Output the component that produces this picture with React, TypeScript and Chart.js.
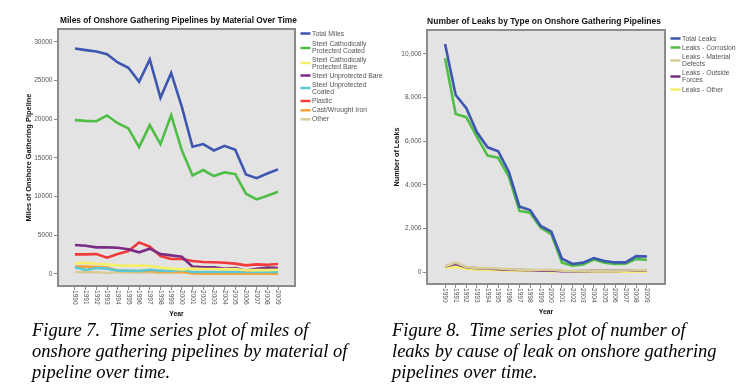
import React, { useEffect, useRef } from "react";
import { Chart, registerables } from "chart.js";
Chart.register(...registerables);

const years = [1990, 1991, 1992, 1993, 1994, 1995, 1996, 1997, 1998, 1999, 2000, 2001, 2002, 2003, 2004, 2005, 2006, 2007, 2008, 2009];

// Figure 7 – miles by material
const totalMiles = [29150, 28950, 28780, 28420, 27350, 26660, 24850, 27740, 22780, 26000, 21600, 16450, 16800, 15980, 16580, 16060, 12880, 12400, 13000, 13530];
const scpCoated = [19900, 19800, 19750, 20500, 19500, 18830, 16400, 19250, 16800, 20540, 16000, 12750, 13440, 12660, 13140, 12920, 10380, 9650, 10120, 10630];
const scpBare = [1380, 1460, 1330, 1250, 1120, 1080, 1080, 1030, 820, 690, 600, 700, 650, 650, 600, 650, 450, 500, 500, 550];
const suBare = [3750, 3650, 3440, 3440, 3400, 3190, 2800, 3270, 2580, 2410, 2240, 950, 860, 860, 680, 760, 430, 680, 820, 780];
const suCoated = [860, 520, 780, 690, 430, 430, 390, 550, 430, 390, 520, 260, 250, 250, 250, 250, 250, 250, 250, 250];
const plastic = [2540, 2540, 2580, 2110, 2580, 2970, 4090, 3530, 2330, 1940, 1940, 1680, 1550, 1510, 1460, 1340, 1120, 1250, 1200, 1290];
const castIron = [950, 950, 900, 820, 430, 390, 390, 390, 300, 300, 300, 80, 50, 50, 50, 50, 50, 50, 50, 50];
const otherMiles = [260, 220, 220, 130, 220, 200, 200, 200, 150, 150, 200, 180, 200, 200, 200, 200, 200, 200, 200, 200];
const milesTicks = [0, 5000, 10000, 15000, 20000, 25000, 30000];

// Figure 8 – leaks by type
const totalLeaks = [10460, 8120, 7510, 6410, 5720, 5540, 4600, 3000, 2840, 2110, 1850, 610, 370, 430, 640, 500, 440, 440, 730, 710];
const corrosionLeaks = [9800, 7250, 7100, 6200, 5340, 5240, 4370, 2800, 2720, 2030, 1740, 430, 290, 350, 570, 430, 370, 380, 600, 550];
const materialLeaks = [250, 430, 230, 190, 180, 160, 130, 110, 100, 90, 100, 60, 40, 50, 60, 60, 60, 60, 80, 90];
const outsideLeaks = [250, 370, 215, 170, 160, 130, 110, 95, 80, 60, 70, 40, 30, 40, 50, 50, 50, 60, 70, 80];
const otherLeaks = [200, 215, 150, 115, 110, 80, 70, 60, 45, 90, 10, 80, 15, 10, 10, 10, 10, 15, 20, 15];
const leaksTicks = [0, 2000, 4000, 6000, 8000, 10000];

const FONT = '"Liberation Sans", Arial, sans-serif';

type Series = { label: string[]; data: number[]; color: string };
type Spec = {
  W: number; H: number;
  area: { left: number; top: number; right: number; bottom: number };
  xMin: number; xMax: number; yMin: number; yMax: number;
  yTicks: number[]; fmt: (v: number) => string;
  title: string; titleX: number; titleY: number; titleW: number;
  yTitle: string; yTitleX: number; yTitleW: number;
  xTitleX: number; xTitleY: number;
  legendX: number; legendY: number[]; legendText: number[][];
  series: Series[];
};

function fitFont(ctx: CanvasRenderingContext2D, text: string, weight: string, target: number) {
  ctx.font = `${weight} 10px ${FONT}`;
  const w = ctx.measureText(text).width;
  const size = (10 * target) / w;
  return `${weight} ${size.toFixed(2)}px ${FONT}`;
}

function makeChart(canvas: HTMLCanvasElement, s: Spec) {
  const decor = {
    id: "decor",
    beforeDraw(chart: any) {
      const { ctx, chartArea: a } = chart;
      ctx.save();
      ctx.fillStyle = "#e3e3e3";
      ctx.fillRect(a.left, a.top, a.right - a.left, a.bottom - a.top);
      ctx.restore();
    },
    afterDraw(chart: any) {
      const { ctx, chartArea: a } = chart;
      ctx.save();
      ctx.strokeStyle = "#8c8c8c";
      ctx.lineWidth = 2;
      ctx.strokeRect(a.left, a.top, a.right - a.left, a.bottom - a.top);
      // title
      ctx.fillStyle = "#111";
      ctx.textAlign = "center";
      ctx.textBaseline = "middle";
      ctx.font = fitFont(ctx, s.title, "bold", s.titleW);
      ctx.fillText(s.title, s.titleX, s.titleY);
      // y title
      ctx.save();
      ctx.translate(s.yTitleX, (a.top + a.bottom) / 2);
      ctx.rotate(-Math.PI / 2);
      ctx.font = fitFont(ctx, s.yTitle, "bold", s.yTitleW);
      ctx.fillText(s.yTitle, 0, 0);
      ctx.restore();
      // x title
      ctx.font = `bold 6.8px ${FONT}`;
      ctx.fillText("Year", s.xTitleX, s.xTitleY);
      // x tick labels rotated clockwise
      const xs = chart.scales.x;
      ctx.fillStyle = "#555";
      ctx.font = `6.6px ${FONT}`;
      ctx.textAlign = "left";
      for (const yr of years) {
        const px = xs.getPixelForValue(yr);
        ctx.save();
        ctx.translate(px, a.bottom + 4);
        ctx.rotate(Math.PI / 2);
        ctx.fillText(String(yr), 0, 0);
        ctx.restore();
      }
      // legend
      ctx.font = `6.8px ${FONT}`;
      ctx.textAlign = "left";
      s.series.forEach((ser, i) => {
        ctx.strokeStyle = ser.color;
        ctx.lineWidth = 2.5;
        ctx.beginPath();
        ctx.moveTo(s.legendX, s.legendY[i]);
        ctx.lineTo(s.legendX + 10, s.legendY[i]);
        ctx.stroke();
        ctx.fillStyle = "#555";
        ser.label.forEach((ln, j) => ctx.fillText(ln, s.legendX + 11.5, s.legendText[i][j]));
      });
      ctx.restore();
    },
  };

  return new Chart(canvas, {
    type: "line",
    data: {
      datasets: s.series.map((ser) => ({
        label: ser.label.join(" "),
        data: years.map((y, i) => ({ x: y, y: ser.data[i] })),
        borderColor: ser.color,
        backgroundColor: ser.color,
        borderWidth: 2.6,
        pointRadius: 0,
        tension: 0,
      })),
    },
    options: {
      animation: false,
      responsive: false,
      events: [],
      layout: { padding: { left: 0, top: s.area.top, right: s.W - s.area.right, bottom: 0 } },
      plugins: { legend: { display: false }, title: { display: false }, tooltip: { enabled: false } },
      scales: {
        x: {
          type: "linear",
          min: s.xMin,
          max: s.xMax,
          afterBuildTicks: (sc: any) => { sc.ticks = years.map((v) => ({ value: v })); },
          afterFit: (sc: any) => { sc.height = s.H - s.area.bottom; },
          ticks: { display: false },
          grid: { drawOnChartArea: false, drawTicks: true, tickLength: 4, color: "#888" },
          border: { display: false },
        },
        y: {
          type: "linear",
          min: s.yMin,
          max: s.yMax,
          afterBuildTicks: (sc: any) => { sc.ticks = s.yTicks.map((v) => ({ value: v })); },
          afterFit: (sc: any) => { sc.width = s.area.left; },
          ticks: { color: "#555", font: { size: 6.6, family: FONT }, padding: 1.5, callback: (v: any) => s.fmt(Number(v)) },
          grid: { drawOnChartArea: false, drawTicks: true, tickLength: 4, color: "#888" },
          border: { display: false },
        },
      },
    },
    plugins: [decor],
  } as any);
}

const milesSpec: Spec = {
  W: 400, H: 330,
  area: { left: 58, top: 29, right: 295, bottom: 286 },
  xMin: 1988.41, xMax: 2010.59, yMin: -1552, yMax: 31681,
  yTicks: milesTicks, fmt: (v) => String(v),
  title: "Miles of Onshore Gathering Pipelines by Material Over Time", titleX: 178.5, titleY: 21, titleW: 237,
  yTitle: "Miles of Onshore Gathering Pipeline", yTitleX: 29, yTitleW: 128,
  xTitleX: 176.5, xTitleY: 314,
  legendX: 300.5,
  legendY: [33.5, 48, 63, 75.5, 88, 101, 110.3, 119.3],
  legendText: [[33.7], [43.7, 50.7], [60, 67], [75.7], [85, 92], [101], [110.3], [119.3]],
  series: [
    { label: ["Total Miles"], data: totalMiles, color: "#3d56b0" },
    { label: ["Steel Cathodically", "Protected Coated"], data: scpCoated, color: "#4fbe46" },
    { label: ["Steel Cathodically", "Protected Bare"], data: scpBare, color: "#f5ef6a" },
    { label: ["Steel Unprotected Bare"], data: suBare, color: "#7a2b86" },
    { label: ["Steel Unprotected", "Coated"], data: suCoated, color: "#5cc6d3" },
    { label: ["Plastic"], data: plastic, color: "#f23a3a" },
    { label: ["Cast/Wrought Iron"], data: castIron, color: "#f7a136" },
    { label: ["Other"], data: otherMiles, color: "#d6cd9a" },
  ],
};

const leaksSpec: Spec = {
  W: 374, H: 330,
  area: { left: 53, top: 30, right: 291, bottom: 284 },
  xMin: 1988.3, xMax: 2010.7, yMin: -550, yMax: 11100,
  yTicks: leaksTicks, fmt: (v) => v.toLocaleString("en-US"),
  title: "Number of Leaks by Type on Onshore Gathering Pipelines", titleX: 170, titleY: 22, titleW: 234,
  yTitle: "Number of Leaks", yTitleX: 22.5, yTitleW: 59,
  xTitleX: 172, xTitleY: 312,
  legendX: 296.5,
  legendY: [38.5, 47.5, 60.5, 76.5, 89.5],
  legendText: [[39.3], [48.3], [57.3, 64.5], [73, 80.5], [89.7]],
  series: [
    { label: ["Total Leaks"], data: totalLeaks, color: "#3d56b0" },
    { label: ["Leaks - Corrosion"], data: corrosionLeaks, color: "#4fbe46" },
    { label: ["Leaks - Material", "Defects"], data: materialLeaks, color: "#d6cd9a" },
    { label: ["Leaks - Outside", "Forces"], data: outsideLeaks, color: "#7a2b86" },
    { label: ["Leaks - Other"], data: otherLeaks, color: "#f5ef6a" },
  ],
};

function ChartBox({ spec, left }: { spec: Spec; left: number }) {
  const ref = useRef<HTMLCanvasElement | null>(null);
  useEffect(() => {
    if (!ref.current) return;
    const c = makeChart(ref.current, spec);
    return () => c.destroy();
  }, []);
  return (
    <canvas
      ref={ref}
      width={spec.W}
      height={spec.H}
      style={{ position: "absolute", left, top: 0, width: spec.W, height: spec.H }}
    />
  );
}

const capStyle: React.CSSProperties = {
  position: "absolute",
  fontFamily: '"Liberation Serif", "Times New Roman", serif',
  fontStyle: "italic",
  fontSize: 18.5,
  lineHeight: "21.4px",
  color: "#000",
  whiteSpace: "pre",
};

export default function App() {
  return (
    <div style={{ position: "absolute", left: 0, top: 0, width: 748, height: 391, background: "#fff", overflow: "hidden" }}>
      <ChartBox spec={milesSpec} left={0} />
      <ChartBox spec={leaksSpec} left={374} />
      <div style={{ ...capStyle, left: 32, top: 319.5 }}>
        {"Figure 7.  Time series plot of miles of\nonshore gathering pipelines by material of\npipeline over time."}
      </div>
      <div style={{ ...capStyle, left: 392, top: 319.5 }}>
        {"Figure 8.  Time series plot of number of\nleaks by cause of leak on onshore gathering\npipelines over time."}
      </div>
    </div>
  );
}
